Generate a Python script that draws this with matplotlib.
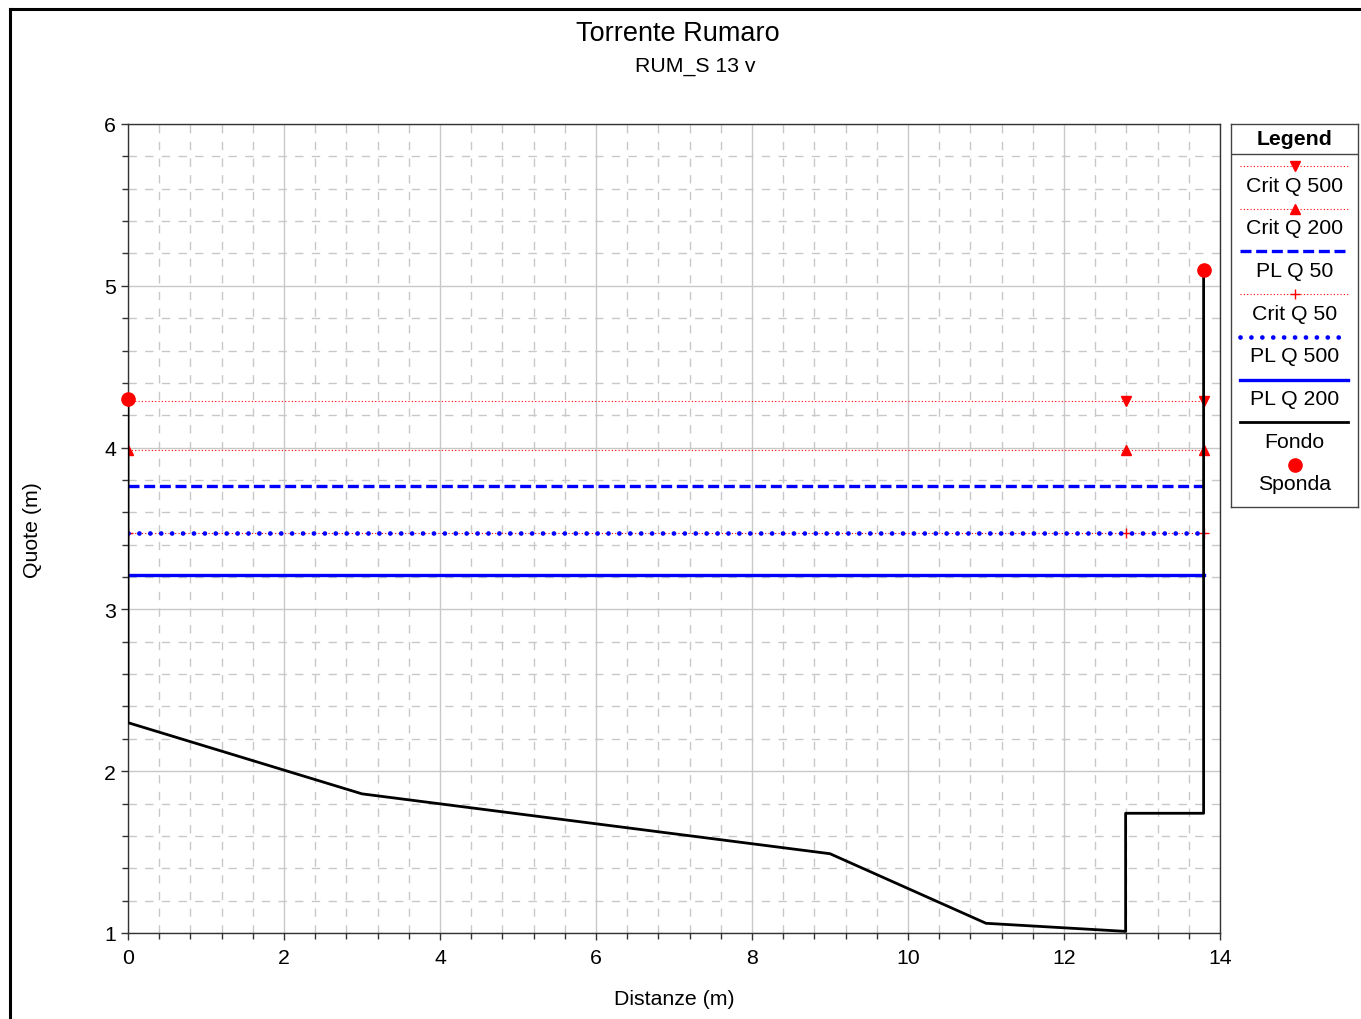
import numpy as np
import matplotlib
matplotlib.use("Agg")
import matplotlib.pyplot as plt
from matplotlib.lines import Line2D
from matplotlib.ticker import MultipleLocator

plt.rcParams['font.family'] = ['Liberation Sans', 'DejaVu Sans']

# fondo alveo (sezione)
fondo_x = [0.0, 0.0, 3.0, 9.0, 11.0, 12.79, 12.79, 13.79, 13.79]
fondo_y = [4.30, 2.30, 1.86, 1.49, 1.06, 1.01, 1.74, 1.74, 5.10]

# sponde
sponda_x = [0.0, 13.79]
sponda_y = [4.30, 5.10]

# livelli (estremi orizzontali)
liv_x = [0.0, 12.79, 13.79]
crit_q500 = 4.29
crit_q200 = 3.985
crit_q50 = 3.47
pl_q50 = 3.765
pl_q500 = 3.47
pl_q200 = 3.215

W, H = 1361, 1020
fig = plt.figure(figsize=(W / 100, H / 100), dpi=100)

def fx(px):
    return px / W

def fy(py):
    return 1 - py / H

ax = fig.add_axes([fx(128), fy(934), fx(1220) - fx(128), fy(125) - fy(934)])

FS = 15.3

# griglia
ax.set_xlim(0, 14)
ax.set_ylim(1, 6)
ax.xaxis.set_major_locator(MultipleLocator(2))
ax.xaxis.set_minor_locator(MultipleLocator(0.4))
ax.yaxis.set_major_locator(MultipleLocator(1))
ax.yaxis.set_minor_locator(MultipleLocator(0.2))
ax.grid(which='major', color='#c8c8c8', lw=1.0, ls='-')
ax.grid(which='minor', color='#c8c8c8', lw=1.0, ls=(0, (6, 6)))
ax.set_axisbelow(True)
ax.tick_params(which='major', direction='out', length=5, width=1, labelsize=FS, colors='#333333', labelcolor='black')
ax.tick_params(axis='x', which='major', pad=5.5)
ax.tick_params(which='minor', direction='out', length=4, width=1, colors='#333333')
for s in ax.spines.values():
    s.set_color('#333333')
    s.set_linewidth(1.0)

stile_crit = dict(color='red', lw=0.8, ls=(0, (1, 2)))
stile_q50 = dict(color='#0000ff', lw=2.4, ls=(0, (3.3, 1.4)))
stile_q500 = dict(color='#0000ff', lw=3.4, ls=(0, (0.01, 2.3)), dash_capstyle='round')
stile_q200 = dict(color='#0000ff', lw=2.4)
stile_fondo = dict(color='black', lw=2.0)

# livelli critici
ax.plot(liv_x, [crit_q500] * 3, marker='v', ms=6.5, zorder=3, **stile_crit)
ax.plot(liv_x, [crit_q200] * 3, marker='^', ms=6.5, zorder=3, **stile_crit)
ax.plot(liv_x, [crit_q50] * 3, marker='+', ms=6.5, zorder=3, **stile_crit)

# peli liberi
ax.plot([liv_x[0], liv_x[-1]], [pl_q50] * 2, zorder=4, **stile_q50)
ax.plot([liv_x[0], liv_x[-1]], [pl_q500] * 2, zorder=4, **stile_q500)
ax.plot([liv_x[0], liv_x[-1]], [pl_q200] * 2, zorder=4, **stile_q200)

# fondo e sponde
ax.plot(fondo_x, fondo_y, zorder=5, **stile_fondo)
ax.plot(sponda_x, sponda_y, ls='none', marker='o', color='red', ms=9.5, zorder=6, clip_on=False)

fig.text(fx(674), fy(1000), 'Distanze (m)', ha='center', va='center', fontsize=FS)
fig.text(fx(33), fy(530), 'Quote (m)', ha='center', va='center', rotation=90, fontsize=FS)

fig.text(fx(678), fy(34), 'Torrente Rumaro', ha='center', va='center', fontsize=19.5)
fig.text(fx(695), fy(66), 'RUM_S 13 v', ha='center', va='center', fontsize=FS)

# cornice esterna
fig.add_artist(Line2D([fx(9.5), fx(9.5)], [fy(10), 0], transform=fig.transFigure, color='black', lw=2.2))
fig.add_artist(Line2D([fx(9.5), 1], [fy(10), fy(10)], transform=fig.transFigure, color='black', lw=2.2))

# legenda
lg = fig.add_axes([fx(1231), fy(508), fx(1358) - fx(1231), fy(125) - fy(508)])
lg.set_xlim(1231, 1358)
lg.set_ylim(508, 125)
lg.set_xticks([])
lg.set_yticks([])
for s in lg.spines.values():
    s.set_color('#444444')
    s.set_linewidth(1.0)
lg.text(1294.5, 139, 'Legend', ha='center', va='center', fontsize=FS, fontweight='bold')
lg.plot([1231, 1358], [155, 155], color='#444444', lw=1.0)

voci = [
    ('Crit Q 500', stile_crit, 'v'),
    ('Crit Q 200', stile_crit, '^'),
    ('PL Q 50', stile_q50, None),
    ('Crit Q 50', stile_crit, '+'),
    ('PL Q 500', stile_q500, None),
    ('PL Q 200', stile_q200, None),
    ('Fondo', stile_fondo, None),
]
y0 = 167
dy = 42.7
for i, (lab, st, mk) in enumerate(voci):
    yy = y0 + i * dy
    lg.plot([1240, 1348], [yy, yy], **st)
    if mk:
        lg.plot([1294.5], [yy], ls='none', marker=mk, color='red', ms=6.5)
    lg.text(1294.5, yy + 19, lab, ha='center', va='center', fontsize=FS)
yy = y0 + 7 * dy
lg.plot([1294.5], [yy], ls='none', marker='o', color='red', ms=9.5)
lg.text(1294.5, yy + 19, 'Sponda', ha='center', va='center', fontsize=FS)

fig.savefig('out.png', dpi=100)
